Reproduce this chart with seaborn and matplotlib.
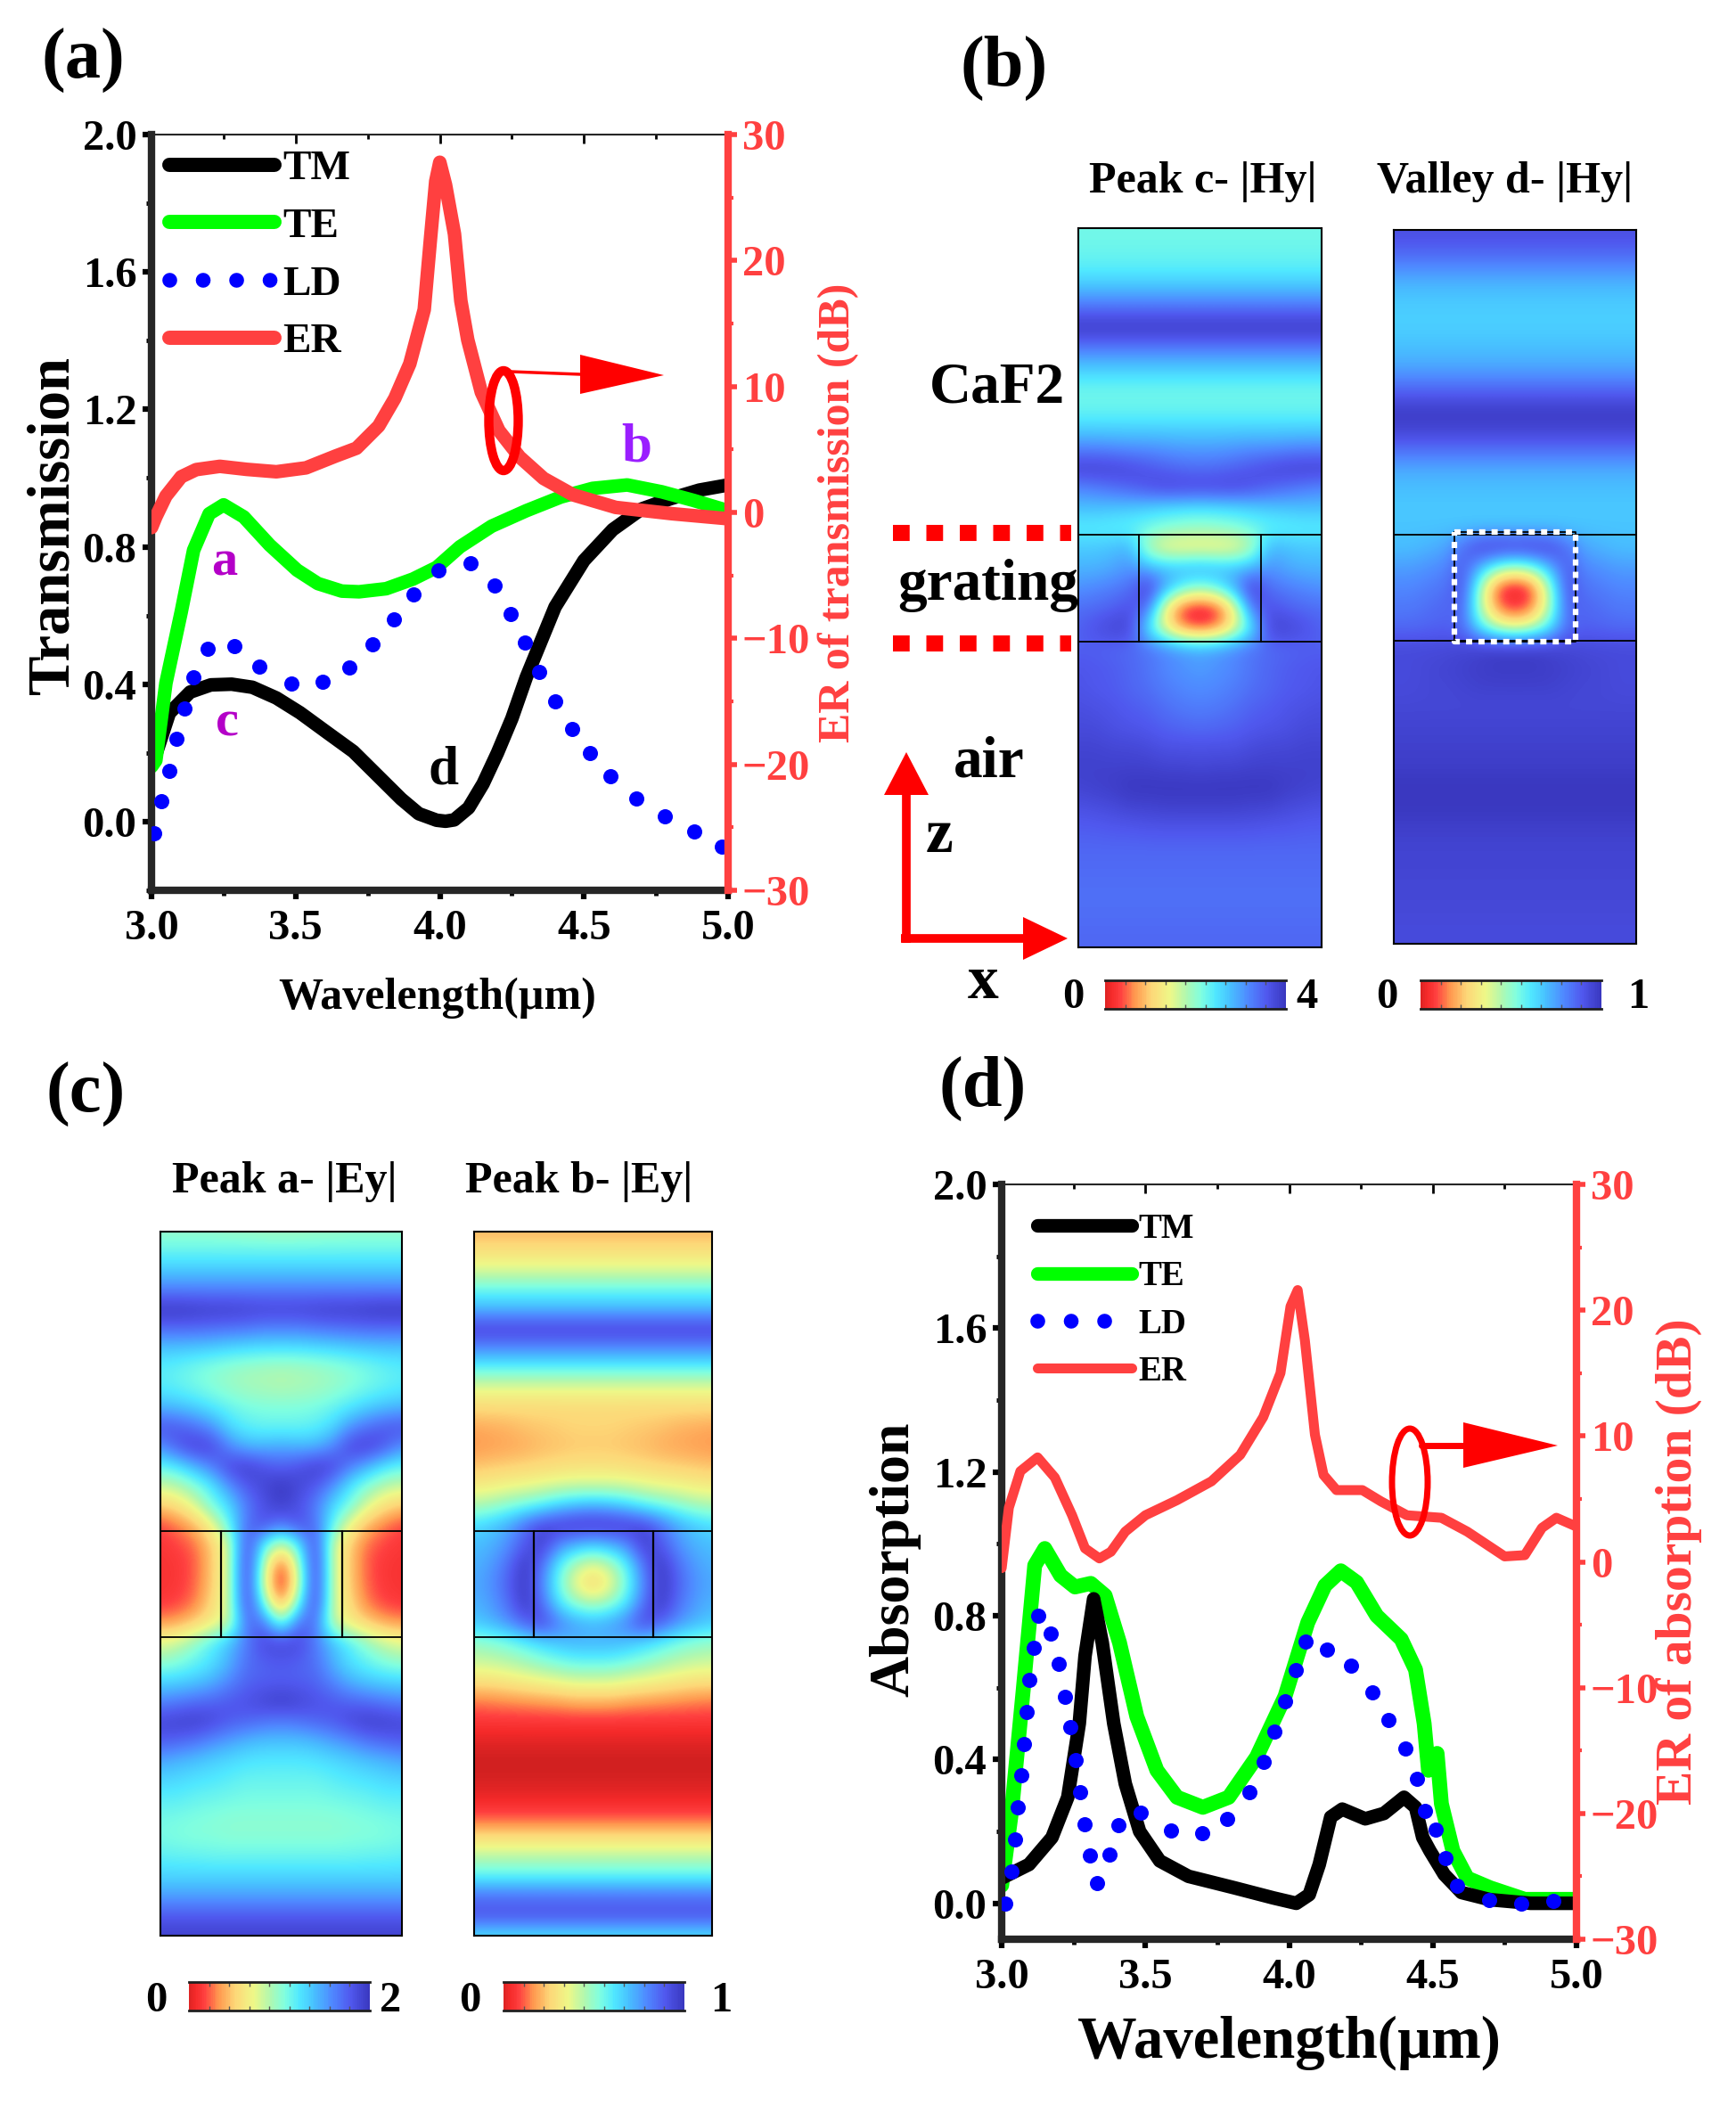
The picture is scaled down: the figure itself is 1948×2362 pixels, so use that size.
import numpy as np
import matplotlib
matplotlib.use('Agg')
import matplotlib.pyplot as plt
import seaborn as sns
from matplotlib.colors import LinearSegmentedColormap
from matplotlib.lines import Line2D
from matplotlib.patches import Ellipse, Polygon
from matplotlib.ticker import MultipleLocator

# panel (a) curves
a_tm_x = [3.0, 3.015, 3.062, 3.134, 3.206, 3.278, 3.35, 3.433, 3.515, 3.608, 3.7, 3.783, 3.866, 3.927, 3.989, 4.02, 4.05, 4.1, 4.15, 4.2, 4.25, 4.3, 4.4, 4.5, 4.6, 4.7, 4.8, 4.9, 5.0]
a_tm_y = [0.17, 0.195, 0.316, 0.377, 0.398, 0.4, 0.391, 0.36, 0.317, 0.26, 0.204, 0.135, 0.066, 0.023, 0.004, 0.001, 0.005, 0.04, 0.11, 0.2, 0.3, 0.42, 0.625, 0.76, 0.85, 0.91, 0.94, 0.965, 0.98]
a_te_x = [3.0, 3.015, 3.05, 3.103, 3.146, 3.2, 3.25, 3.32, 3.41, 3.505, 3.577, 3.66, 3.72, 3.814, 3.907, 3.989, 4.07, 4.18, 4.3, 4.42, 4.53, 4.65, 4.77, 4.88, 5.0]
a_te_y = [0.16, 0.178, 0.403, 0.61, 0.79, 0.896, 0.922, 0.887, 0.805, 0.732, 0.693, 0.671, 0.669, 0.678, 0.706, 0.74, 0.8, 0.86, 0.905, 0.945, 0.97, 0.98, 0.96, 0.935, 0.905]
a_ld_x = [3.01, 3.035, 3.062, 3.088, 3.115, 3.146, 3.195, 3.286, 3.375, 3.484, 3.593, 3.685, 3.767, 3.84, 3.91, 3.996, 4.107, 4.189, 4.247, 4.296, 4.346, 4.401, 4.459, 4.521, 4.593, 4.683, 4.78, 4.881, 4.977]
a_ld_y = [-0.033, 0.059, 0.148, 0.24, 0.33, 0.42, 0.503, 0.511, 0.451, 0.402, 0.406, 0.449, 0.517, 0.589, 0.661, 0.732, 0.753, 0.687, 0.603, 0.521, 0.435, 0.351, 0.269, 0.199, 0.131, 0.068, 0.016, -0.029, -0.074]
a_er_x = [3.0, 3.015, 3.05, 3.103, 3.155, 3.237, 3.33, 3.433, 3.536, 3.639, 3.711, 3.788, 3.844, 3.896, 3.946, 3.968, 3.986, 4.0, 4.02, 4.051, 4.073, 4.097, 4.144, 4.205, 4.277, 4.36, 4.462, 4.61, 4.805, 5.0]
a_er_y = [-1.2, -0.36, 1.3, 2.83, 3.4, 3.66, 3.42, 3.23, 3.54, 4.48, 5.1, 6.86, 9.06, 11.8, 16.1, 21.8, 26.3, 27.8, 26.0, 22.1, 16.8, 13.7, 9.55, 6.5, 4.4, 2.7, 1.4, 0.4, -0.1, -0.5]

# panel (d) curves
d_tm_x = [3.0, 3.095, 3.175, 3.23, 3.27, 3.29, 3.32, 3.35, 3.39, 3.43, 3.48, 3.55, 3.65, 3.81, 3.945, 4.025, 4.07, 4.105, 4.145, 4.185, 4.265, 4.33, 4.4, 4.44, 4.465, 4.49, 4.54, 4.6, 4.7, 4.84, 5.0]
d_tm_y = [0.07, 0.108, 0.183, 0.295, 0.5, 0.688, 0.847, 0.725, 0.5, 0.333, 0.2, 0.118, 0.075, 0.043, 0.015, 0.0, 0.024, 0.108, 0.24, 0.262, 0.235, 0.25, 0.295, 0.267, 0.183, 0.146, 0.08, 0.03, 0.01, 0.0, 0.0]
d_te_x = [3.0, 3.035, 3.075, 3.115, 3.15, 3.205, 3.255, 3.31, 3.36, 3.41, 3.47, 3.54, 3.61, 3.7, 3.79, 3.887, 3.986, 4.065, 4.125, 4.18, 4.235, 4.305, 4.39, 4.44, 4.47, 4.485, 4.515, 4.53, 4.57, 4.62, 4.7, 4.82, 5.0]
d_te_y = [0.05, 0.26, 0.594, 0.94, 0.987, 0.912, 0.88, 0.89, 0.856, 0.725, 0.52, 0.37, 0.295, 0.267, 0.295, 0.407, 0.576, 0.781, 0.884, 0.925, 0.893, 0.8, 0.735, 0.65, 0.5, 0.37, 0.417, 0.277, 0.146, 0.07, 0.043, 0.011, 0.011]
d_ld_x = [3.012, 3.034, 3.046, 3.057, 3.067, 3.077, 3.087, 3.097, 3.111, 3.127, 3.172, 3.198, 3.22, 3.24, 3.257, 3.273, 3.289, 3.307, 3.333, 3.374, 3.406, 3.483, 3.588, 3.697, 3.784, 3.861, 3.913, 3.95, 3.986, 4.022, 4.057, 4.131, 4.216, 4.289, 4.347, 4.404, 4.446, 4.473, 4.511, 4.543, 4.586, 4.695, 4.808, 4.919]
d_ld_y = [0.0, 0.088, 0.178, 0.266, 0.355, 0.444, 0.533, 0.622, 0.71, 0.8, 0.75, 0.665, 0.575, 0.489, 0.399, 0.309, 0.221, 0.133, 0.056, 0.136, 0.217, 0.252, 0.202, 0.196, 0.234, 0.309, 0.393, 0.477, 0.563, 0.649, 0.729, 0.705, 0.66, 0.587, 0.511, 0.43, 0.346, 0.258, 0.206, 0.125, 0.05, 0.009, 0.0, 0.007]
d_er_x = [3.0, 3.025, 3.065, 3.125, 3.185, 3.245, 3.29, 3.34, 3.38, 3.43, 3.5, 3.61, 3.73, 3.83, 3.91, 3.97, 4.005, 4.03, 4.055, 4.09, 4.12, 4.165, 4.255, 4.32, 4.41, 4.53, 4.62, 4.75, 4.82, 4.88, 4.93, 5.0]
d_er_y = [-0.5, 4.3, 7.2, 8.3, 6.7, 3.7, 1.07, 0.27, 0.8, 2.4, 3.7, 4.9, 6.4, 8.5, 11.5, 15, 20.3, 21.6, 17.6, 10.1, 6.9, 5.7, 5.7, 4.8, 3.7, 3.5, 2.4, 0.43, 0.53, 2.7, 3.5, 2.8]

# field maps: colour position (0 red .. 100 indigo), left edge to centre
field_c_left = [
    [50, 50, 50, 50, 49, 49, 48, 48],
    [58, 58, 58, 58, 58, 58, 58, 58],
    [68, 68, 68, 68, 68, 68, 68, 68],
    [82, 82, 82, 82, 82, 82, 82, 82],
    [100, 100, 99, 98, 98, 97, 96, 96],
    [85, 85, 85, 84, 83, 82, 80, 80],
    [68, 68, 67, 66, 64, 63, 62, 62],
    [60, 58, 55, 52, 50, 48, 47, 46],
    [61, 59, 56, 53, 50, 48, 47, 46],
    [72, 70, 67, 62, 58, 55, 54, 54],
    [92, 90, 85, 78, 65, 60, 58, 58],
    [78, 90, 97, 95, 80, 72, 72, 74],
    [58, 62, 72, 82, 95, 98, 92, 88],
    [42, 45, 52, 62, 78, 90, 95, 100],
    [25, 30, 40, 55, 65, 82, 92, 98],
    [10, 15, 22, 36, 58, 85, 92, 82],
    [8, 10, 14, 25, 42, 96, 60, 40],
    [7, 8, 12, 25, 42, 100, 45, 7],
    [7, 8, 13, 25, 42, 100, 40, 0],
    [8, 10, 15, 28, 42, 98, 55, 15],
    [18, 20, 26, 33, 42, 85, 85, 50],
    [38, 42, 50, 60, 70, 82, 95, 95],
    [50, 53, 58, 63, 72, 85, 88, 90],
    [65, 66, 68, 72, 80, 87, 88, 88],
    [80, 82, 85, 87, 90, 92, 96, 99],
    [95, 97, 98, 95, 90, 88, 85, 83],
    [90, 88, 85, 80, 76, 72, 70, 70],
    [75, 72, 70, 67, 65, 63, 62, 62],
    [66, 65, 63, 62, 60, 58, 58, 58],
    [60, 60, 58, 57, 56, 55, 55, 55],
    [56, 55, 54, 53, 52, 52, 52, 52],
    [55, 54, 53, 53, 52, 52, 52, 52],
    [60, 59, 59, 58, 58, 58, 58, 58],
    [66, 66, 66, 66, 66, 66, 66, 66],
    [76, 76, 76, 76, 76, 76, 76, 76],
    [90, 90, 90, 90, 90, 90, 90, 90],
    [97, 97, 97, 97, 97, 97, 97, 97],
]
field_c_right = [
    [22, 22, 22, 22, 22, 22, 22, 22],
    [30, 30, 30, 30, 30, 30, 30, 30],
    [40, 40, 40, 40, 40, 40, 40, 40],
    [58, 58, 58, 58, 58, 58, 58, 58],
    [72, 72, 72, 72, 72, 72, 72, 72],
    [97, 97, 97, 97, 97, 97, 97, 97],
    [78, 78, 78, 78, 78, 78, 78, 78],
    [58, 58, 58, 58, 58, 58, 58, 58],
    [38, 38, 38, 38, 38, 38, 38, 38],
    [28, 28, 28, 28, 28, 28, 28, 28],
    [20, 21, 22, 24, 25, 26, 27, 27],
    [18, 19, 20, 21, 23, 24, 25, 25],
    [24, 25, 26, 27, 28, 29, 30, 30],
    [33, 34, 36, 37, 39, 41, 42, 42],
    [46, 48, 52, 56, 60, 66, 70, 72],
    [64, 68, 74, 85, 95, 98, 100, 100],
    [70, 72, 78, 90, 98, 80, 72, 68],
    [72, 76, 85, 100, 85, 60, 45, 38],
    [74, 78, 88, 100, 80, 55, 35, 25],
    [72, 76, 85, 100, 85, 62, 50, 45],
    [68, 72, 78, 88, 95, 82, 75, 72],
    [50, 52, 55, 60, 65, 70, 72, 72],
    [42, 43, 45, 48, 52, 55, 58, 58],
    [30, 30, 32, 34, 36, 38, 40, 40],
    [15, 16, 17, 18, 19, 20, 22, 22],
    [8, 8, 8, 8, 8, 8, 8, 8],
    [3, 3, 3, 3, 3, 3, 3, 3],
    [0, 0, 0, 0, 0, 0, 0, 0],
    [1, 1, 1, 1, 1, 1, 1, 1],
    [4, 4, 4, 4, 4, 4, 4, 4],
    [12, 12, 12, 12, 12, 12, 12, 12],
    [30, 30, 30, 30, 30, 30, 30, 30],
    [45, 45, 45, 45, 45, 45, 45, 45],
    [60, 60, 60, 60, 60, 60, 60, 60],
    [85, 85, 85, 85, 85, 85, 85, 85],
    [92, 92, 92, 92, 92, 92, 92, 92],
    [62, 62, 62, 62, 62, 62, 62, 62],
]
field_b_left = [
    [56, 56, 56, 56, 56, 56, 56, 56],
    [57, 57, 57, 57, 57, 57, 57, 57],
    [60, 60, 60, 60, 60, 60, 60, 60],
    [70, 70, 70, 70, 70, 70, 70, 70],
    [85, 85, 85, 85, 85, 85, 85, 85],
    [100, 100, 100, 100, 100, 100, 100, 100],
    [82, 82, 82, 82, 82, 82, 82, 82],
    [68, 68, 68, 68, 68, 68, 68, 68],
    [57, 57, 57, 57, 57, 57, 57, 57],
    [57, 57, 57, 57, 57, 57, 57, 57],
    [66, 66, 66, 66, 66, 66, 66, 66],
    [80, 80, 79, 78, 78, 77, 76, 76],
    [97, 97, 96, 94, 91, 88, 86, 85],
    [80, 82, 85, 88, 92, 95, 95, 95],
    [70, 70, 69, 68, 66, 64, 63, 62],
    [60, 60, 59, 58, 56, 53, 51, 50],
    [68, 68, 70, 72, 45, 34, 32, 32],
    [72, 72, 74, 78, 72, 70, 72, 75],
    [78, 80, 82, 85, 98, 75, 60, 52],
    [85, 86, 88, 92, 85, 35, 7, 2],
    [88, 92, 96, 95, 62, 35, 15, 8],
    [88, 88, 87, 86, 84, 80, 76, 74],
    [91, 90, 89, 87, 84, 80, 78, 76],
    [91, 90, 89, 87, 85, 82, 80, 79],
    [93, 92, 91, 89, 88, 85, 83, 82],
    [94, 94, 92, 91, 90, 88, 87, 86],
    [96, 96, 95, 95, 94, 92, 92, 92],
    [97, 97, 97, 97, 97, 96, 96, 95],
    [96, 97, 98, 100, 100, 100, 100, 100],
    [92, 93, 94, 96, 96, 97, 97, 97],
    [89, 89, 90, 90, 91, 91, 91, 91],
    [87, 87, 87, 87, 87, 87, 87, 87],
    [86, 86, 86, 86, 86, 86, 86, 86],
    [85, 85, 85, 85, 85, 85, 85, 85],
    [85, 85, 85, 85, 85, 85, 85, 85],
    [86, 86, 86, 86, 86, 86, 86, 86],
    [87, 87, 87, 87, 87, 87, 87, 87],
]
field_b_right = [
    [93, 93, 93, 93, 93, 93, 93, 93],
    [88, 88, 88, 88, 88, 88, 88, 88],
    [78, 78, 78, 78, 78, 78, 78, 78],
    [70, 70, 70, 70, 70, 70, 70, 70],
    [67, 67, 67, 67, 67, 67, 67, 67],
    [67, 67, 67, 67, 67, 67, 67, 67],
    [70, 70, 70, 70, 70, 70, 70, 70],
    [75, 75, 75, 75, 75, 75, 75, 75],
    [86, 86, 86, 86, 86, 86, 86, 86],
    [98, 98, 98, 98, 98, 98, 98, 98],
    [97, 97, 97, 97, 97, 97, 97, 97],
    [86, 86, 86, 86, 86, 86, 86, 86],
    [74, 74, 74, 74, 74, 74, 74, 74],
    [70, 70, 70, 70, 70, 70, 70, 70],
    [68, 68, 68, 68, 68, 68, 68, 68],
    [69, 69, 69, 69, 69, 69, 69, 69],
    [70, 70, 72, 74, 85, 96, 98, 98],
    [76, 76, 78, 80, 90, 72, 55, 48],
    [80, 80, 82, 84, 92, 48, 10, 2],
    [83, 83, 85, 87, 88, 45, 14, 5],
    [86, 86, 87, 88, 85, 60, 42, 35],
    [94, 94, 94, 94, 95, 96, 97, 97],
    [94, 94, 95, 96, 97, 98, 99, 99],
    [94, 94, 95, 95, 96, 97, 97, 97],
    [95, 95, 95, 95, 95, 95, 95, 95],
    [96, 96, 96, 96, 96, 96, 96, 96],
    [97, 97, 97, 97, 97, 97, 97, 97],
    [98, 98, 98, 98, 98, 98, 98, 98],
    [100, 100, 100, 100, 100, 100, 100, 100],
    [100, 100, 100, 100, 100, 100, 100, 100],
    [98, 98, 98, 98, 98, 98, 98, 98],
    [96, 96, 96, 96, 96, 96, 96, 96],
    [96, 96, 96, 96, 96, 96, 96, 96],
    [95, 95, 95, 95, 95, 95, 95, 95],
    [95, 95, 95, 95, 95, 95, 95, 95],
    [94, 94, 94, 94, 94, 94, 94, 94],
    [94, 94, 94, 94, 94, 94, 94, 94],
]

x_ticks = [3.0, 3.5, 4.0, 4.5, 5.0]
y_ticks = [0.0, 0.4, 0.8, 1.2, 1.6, 2.0]

W, H = 1949, 2362
RED = '#ff4040'
GREEN = '#00ff00'
BLUE = '#0000ff'

sns.set_theme(style='ticks')
plt.rcParams['font.family'] = ['Liberation Serif', 'DejaVu Serif']
plt.rcParams['font.weight'] = 'bold'
plt.rcParams['lines.scale_dashes'] = False
plt.rcParams['text.color'] = 'black'
plt.rcParams['xtick.labelcolor'] = 'black'
plt.rcParams['ytick.labelcolor'] = 'black'

cmap = LinearSegmentedColormap.from_list('field', [
    (0.0, '#d02020'), (0.05, '#f52a2a'), (0.1, '#ff4040'), (0.18, '#ff9a50'),
    (0.27, '#fdd878'), (0.37, '#eef888'), (0.46, '#b0f8b0'), (0.54, '#80ffe0'),
    (0.62, '#50e8ff'), (0.7, '#48c0ff'), (0.8, '#4f88ff'), (0.9, '#5058ee'),
    (1.0, '#3a38c0')])

fig = plt.figure(figsize=(W / 100, H / 100), dpi=100, facecolor='white')


def px_axes(left, top, right, bottom):
    return fig.add_axes([left / W, 1 - bottom / H, (right - left) / W, (bottom - top) / H])


def spectrum(box, tm, te, ld, er, ylim, tm_first, lw):
    ax = px_axes(*box)
    ax.set_facecolor('none')
    first, second = (tm, te) if tm_first else (te, tm)
    colors = ('black', GREEN) if tm_first else (GREEN, 'black')
    for (x, y), c, w in zip((first, second), colors, lw[:2] if tm_first else lw[1::-1]):
        sns.lineplot(x=x, y=y, ax=ax, color=c, linewidth=w, estimator=None, sort=False,
                     solid_capstyle='round', solid_joinstyle='round', legend=False)
    sns.scatterplot(x=ld[0], y=ld[1], ax=ax, color=BLUE, s=150, linewidth=0, legend=False, zorder=5)
    ax.set_xlim(3, 5)
    ax.set_ylim(*ylim)
    ax.set_xlabel('')
    ax.set_ylabel('')
    ax.set_xticks(x_ticks, ['%.1f' % v for v in x_ticks])
    ax.set_yticks(y_ticks, ['%.1f' % v for v in y_ticks])
    ax.xaxis.set_minor_locator(MultipleLocator(0.25))
    ax.yaxis.set_minor_locator(MultipleLocator(0.2))
    ax.tick_params(which='major', length=7, width=4.5, labelsize=35, color='black', labelcolor='black')
    ax.tick_params(axis='x', pad=8)
    ax.tick_params(axis='y', pad=5)
    ax.tick_params(which='minor', length=4.5, width=3.5, color='black')
    ax.spines['left'].set_linewidth(6)
    ax.spines['bottom'].set_linewidth(6)
    ax.spines['top'].set_linewidth(1.5)
    ax.spines['right'].set_visible(False)
    top = ax.secondary_xaxis('top')
    top.set_xticks(x_ticks)
    top.set_xticks([3.25, 3.75, 4.25, 4.75], minor=True)
    top.tick_params(which='major', direction='in', length=7, width=2, labeltop=False, color='black')
    top.tick_params(which='minor', direction='in', length=3.5, width=2, color='black')
    top.spines['top'].set_visible(False)

    ax2 = ax.twinx()
    ax2.set_facecolor('none')
    sns.lineplot(x=er[0], y=er[1], ax=ax2, color=RED, linewidth=lw[2], estimator=None, sort=False,
                 solid_capstyle='round', solid_joinstyle='round', legend=False)
    ax2.set_ylim(-30, 30)
    ax2.set_ylabel('')
    ax2.yaxis.set_major_locator(MultipleLocator(10))
    ax2.yaxis.set_minor_locator(MultipleLocator(5))
    ax2.tick_params(axis='y', which='major', length=7.5, width=4, colors=RED, labelsize=35, pad=4)
    ax2.tick_params(axis='y', which='minor', length=4.5, width=3, colors=RED)
    for side in ('left', 'bottom', 'top'):
        ax2.spines[side].set_visible(False)
    ax2.spines['right'].set_linewidth(6)
    ax2.spines['right'].set_color(RED)
    return ax, ax2


def legend(ax2, anchor, fontsize, handlelength, labelspacing, widths):
    handles = [
        Line2D([], [], color='black', lw=widths[0], solid_capstyle='round'),
        Line2D([], [], color=GREEN, lw=widths[0], solid_capstyle='round'),
        Line2D([], [], color=BLUE, lw=12, linestyle=(0, (0.01, 27)), dash_capstyle='round'),
        Line2D([], [], color=RED, lw=widths[1], solid_capstyle='round'),
    ]
    return ax2.legend(handles, ['TM', 'TE', 'LD', 'ER'], loc='upper left',
                      bbox_to_anchor=anchor, bbox_transform=fig.transFigure, frameon=False,
                      fontsize=fontsize, handlelength=handlelength, handletextpad=0.2,
                      labelspacing=labelspacing, borderpad=0, borderaxespad=0)


def field_map(box, half):
    ax = px_axes(*box)
    half = np.array(half, dtype=float) / 100
    grid = np.hstack([half, half[:, -2::-1]])
    ny, nx = grid.shape
    ax.imshow(grid, cmap=cmap, vmin=0, vmax=1, aspect='auto', interpolation='bicubic',
              interpolation_stage='data', extent=(-0.5, nx - 0.5, ny - 0.5, -0.5))
    ax.set_xlim(0, nx - 1)
    ax.set_ylim(ny - 1, 0)
    ax.set_xticks([])
    ax.set_yticks([])
    for s in ax.spines.values():
        s.set_linewidth(1.5)
        s.set_color('black')
    return ax


def color_bar(box):
    ax = px_axes(*box)
    steps = np.linspace(0.02, 1, 120)[None, :]
    sns.heatmap(steps, ax=ax, cmap=cmap, vmin=0, vmax=1, cbar=False,
                xticklabels=False, yticklabels=False)
    ax.tick_params(length=0)
    ax.vlines(np.arange(1, 9) * 120 / 9, 0, 0.16, color='#555555', lw=1)
    ax.vlines(np.arange(1, 9) * 120 / 9, 0.84, 1, color='#555555', lw=1)
    for side in ('top', 'bottom'):
        ax.spines[side].set_visible(True)
        ax.spines[side].set_linewidth(2)
        ax.spines[side].set_color('#202020')
    return ax


# spectra
ax_a, ax_a2 = spectrum((170, 151, 817, 999), (a_tm_x, a_tm_y), (a_te_x, a_te_y), (a_ld_x, a_ld_y),
                       (a_er_x, a_er_y), (-0.2, 2.0), True, (11, 11, 11))
ax_d, ax_d2 = spectrum((1124, 1329, 1769, 2176), (d_tm_x, d_tm_y), (d_te_x, d_te_y), (d_ld_x, d_ld_y),
                       (d_er_x, d_er_y), (-0.1, 2.0), False, (11, 12, 8))
legend(ax_a2, (190 / W, 1 - 168 / H), 34, 2.5, 0.46, (11.5, 11.5))
legend(ax_d2, (1164 / W, 1 - 1361 / H), 28, 2.72, 0.42, (11, 8))

# field maps
field_map((1210, 256, 1483, 1063), field_b_left)
field_map((1564, 258, 1836, 1059), field_b_right)
field_map((180, 1382, 451, 2172), field_c_left)
field_map((532, 1382, 799, 2172), field_c_right)
color_bar((1240, 1100, 1443, 1132))
color_bar((1594, 1100, 1797, 1132))
color_bar((212, 2224, 415, 2256))
color_bar((565, 2224, 768, 2256))

# overlay for everything placed by pixel
ov = fig.add_axes([0, 0, 1, 1], zorder=20)
ov.set_xlim(0, W)
ov.set_ylim(H, 0)
ov.axis('off')


def label(x, y, s, size, color='black', rotation=0):
    if rotation:
        x += 4
    else:
        y += 3
    ov.text(x, y, s, fontsize=size, color=color, rotation=rotation, ha='center', va='center', fontweight='bold')


for x, y, s in [(93, 65, '(a)'), (1127, 73, '(b)'), (96, 1225, '(c)'), (1103, 1218, '(d)')]:
    label(x, y, s, 58)

label(56, 589, 'Transmission', 48, rotation=90)
label(491, 1117, 'Wavelength(µm)', 36)
label(937, 575, 'ER of transmission (dB)', 36, RED, 90)
label(1000, 1750, 'Absorption', 46, rotation=90)
label(1446, 2289, 'Wavelength(µm)', 48)
label(1880, 1752, 'ER of absorption (dB)', 41.5, RED, 90)

label(252, 628, 'a', 42, '#b400c8')
label(714, 500, 'b', 44, '#9a1eff')
label(255, 808, 'c', 42, '#b400c8')
label(498, 862, 'd', 44)

label(1350, 201, 'Peak c- |Hy|', 36)
label(1689, 201, 'Valley d- |Hy|', 36)
label(319, 1323, 'Peak a- |Ey|', 36)
label(650, 1323, 'Peak b- |Ey|', 36)
label(1119, 432, 'CaF2', 47)
label(1109, 654, 'grating', 47)
label(1110, 852, 'air', 47)
label(1054, 936, 'z', 50)
label(1103, 1100, 'x', 50)
for x, y, s in [(1204, 1116, '0'), (1467, 1116, '4'), (1556, 1116, '0'), (1838, 1116, '1'),
                (175, 2242, '0'), (438, 2242, '2'), (527, 2242, '0'), (809, 2242, '1')]:
    label(x, y, s, 35)

# grating outlines
ov.plot([1210, 1483], [600, 600], color='black', lw=1.3)
ov.plot([1210, 1483], [720, 720], color='black', lw=1.3)
ov.plot([1278, 1278], [600, 720], color='black', lw=1.3)
ov.plot([1415, 1415], [600, 720], color='black', lw=1.3)
ov.plot([1564, 1836], [600, 600], color='black', lw=1.3)
ov.plot([1564, 1836], [719, 719], color='black', lw=1.3)
ov.plot([1632, 1768, 1768, 1632, 1632], [597, 597, 720, 720, 597], color='black', lw=1.3)
ov.plot([1632, 1768, 1768, 1632, 1632], [597, 597, 720, 720, 597], color='white', lw=4.5,
        linestyle=(0, (5, 5)))
ov.plot([180, 451], [1718, 1718], color='black', lw=1.3)
ov.plot([180, 451], [1837, 1837], color='black', lw=1.3)
ov.plot([248, 248], [1718, 1837], color='black', lw=1.6)
ov.plot([384, 384], [1718, 1837], color='black', lw=1.6)
ov.plot([532, 799], [1718, 1718], color='black', lw=1.3)
ov.plot([532, 799], [1837, 1837], color='black', lw=1.3)
ov.plot([599, 599], [1718, 1837], color='black', lw=1.6)
ov.plot([733, 733], [1718, 1837], color='black', lw=1.6)

# red dashes beside grating
for y in (598, 722):
    ov.plot([1002, 1202], [y, y], color='#ff0000', lw=13, linestyle=(0, (13.5, 13.5)),
            dash_capstyle='butt')

# axes arrows
ov.plot([1017, 1017], [1058, 890], color='#ff0000', lw=7, solid_capstyle='butt')
ov.plot([1011, 1150], [1053, 1053], color='#ff0000', lw=7, solid_capstyle='butt')
ov.add_patch(Polygon([(992, 892), (1042, 892), (1017, 844)], color='#ff0000', lw=0))
ov.add_patch(Polygon([(1148, 1029), (1148, 1077), (1198, 1053)], color='#ff0000', lw=0))

# ovals and side arrows
ov.add_patch(Ellipse((565, 472), 33, 112, fill=False, edgecolor='#ff0000', lw=7.5))
ov.plot([573, 651], [417, 420], color='#ff0000', lw=2.5)
ov.add_patch(Polygon([(651, 398), (651, 442), (745, 421)], color='#ff0000', lw=0))
ov.add_patch(Ellipse((1582, 1663), 40, 120, fill=False, edgecolor='#ff0000', lw=5))
ov.plot([1595, 1642], [1622, 1622], color='#ff0000', lw=5)
ov.add_patch(Polygon([(1642, 1596), (1642, 1647), (1748, 1622)], color='#ff0000', lw=0))

fig.savefig('out.png', dpi=100)
